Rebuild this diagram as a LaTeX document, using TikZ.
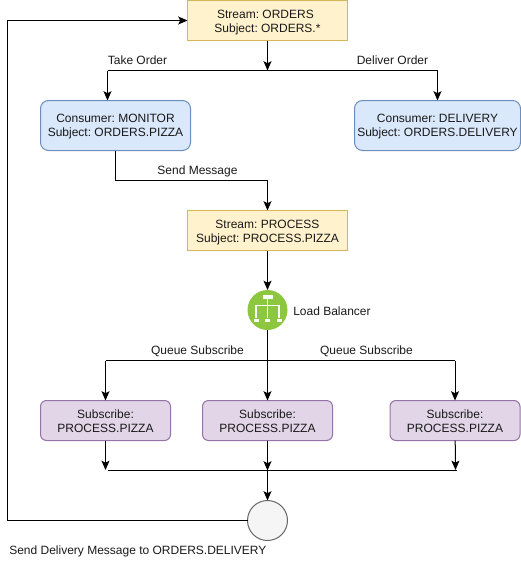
\documentclass[tikz,border=0pt]{standalone}
\usepackage{fontspec}
\setmainfont{Liberation Sans}
\usepackage{xcolor}
\usetikzlibrary{arrows.meta}
\definecolor{streamfill}{HTML}{FFF2CC}
\definecolor{streamline}{HTML}{D6B656}
\definecolor{consumerfill}{HTML}{DAE8FC}
\definecolor{consumerline}{HTML}{6C8EBF}
\definecolor{subfill}{HTML}{E1D5E7}
\definecolor{subline}{HTML}{9673A6}
\definecolor{balancer}{HTML}{8DC63F}
\newcommand{\gapA}{\rule{0pt}{9.6pt}}
\newcommand{\gapB}{\rule{0pt}{8pt}}
\tikzset{
	box/.style={draw, line width=0.75pt, align=center, inner sep=0pt, outer sep=0pt, font=\fontsize{9}{10.5}\selectfont\frenchspacing, text=black!90},
	streambox/.style={box, fill=streamfill, draw=streamline, minimum width=120pt, minimum height=30pt},
	consumerbox/.style={box, fill=consumerfill, draw=consumerline, rounded corners=6pt, minimum height=37.5pt},
	subbox/.style={box, fill=subfill, draw=subline, rounded corners=4.5pt, minimum width=97.5pt, minimum height=30pt},
	label/.style={inner sep=0pt, font=\fontsize{9}{10.5}\selectfont\frenchspacing, text=black!90},
	link/.style={line width=0.75pt, black},
	arrow/.style={link, -{Stealth[length=7pt, width=6pt, inset=1.5pt]}},
	icon/.style={fill=white, draw=none},
	iconline/.style={white, line width=0.9pt}
}
\begin{document}
\begin{tikzpicture}[x=0.75pt, y=-0.75pt]
	\useasboundingbox (0,0) rectangle (521,561);
	% boxes
	\node[streambox] (orders) at (267.5,20.5) {\gapA Stream: ORDERS\rule{3pt}{0pt}\\Subject: ORDERS.*};
	\node[consumerbox, minimum width=112.5pt] (monitor) at (115.5,125.5) {\gapB Consumer: MONITOR\\Subject: ORDERS.PIZZA};
	\node[consumerbox, minimum width=124.5pt] (delivery) at (437.5,125.5) {\gapB Consumer: DELIVERY\\Subject: ORDERS.DELIVERY};
	\node[streambox] (process) at (267.5,230.5) {\gapA Stream: PROCESS\\Subject: PROCESS.PIZZA};
	\node[circle, fill=balancer, minimum size=30pt, inner sep=0pt, outer sep=0pt] (balance) at (267.5,310) {};
	\node[subbox] (subA) at (105.5,420.5) {\gapB Subscribe:\\PROCESS.PIZZA};
	\node[subbox] (subB) at (267.5,420.5) {\gapB Subscribe:\\PROCESS.PIZZA};
	\node[subbox] (subC) at (455,420.5) {\gapB Subscribe:\\PROCESS.PIZZA};
	\node[circle, draw=black!60, fill=black!4, line width=0.75pt, minimum size=30pt, inner sep=0pt, outer sep=0pt] (send) at (267.5,520.5) {};
	% junctions
	\coordinate (split) at (267.5,70.5);
	\coordinate (splitL) at (107.5,70.5);
	\coordinate (splitR) at (437.5,70.5);
	\coordinate (monitorTop) at (107.5,100.5);
	\coordinate (turnA) at (115.5,180.5);
	\coordinate (turnB) at (267.5,180.5);
	\coordinate (queue) at (267.5,360.5);
	\coordinate (queueL) at (105.5,360.5);
	\coordinate (queueR) at (455,360.5);
	\coordinate (busL) at (107.5,470.5);
	\coordinate (busM) at (267.5,470.5);
	\coordinate (busR) at (457,470.5);
	\coordinate (endA) at (105.5,470);
	\coordinate (endC) at (455.5,470);
	\coordinate (backA) at (7.5,520.5);
	\coordinate (backB) at (7.5,20.5);
	% connectors
	\draw[arrow] (orders) -- (split);
	\draw[link] (splitL) -- (splitR);
	\draw[arrow] (splitL) -- (monitorTop);
	\draw[arrow] (splitR) -- (delivery);
	\draw[arrow] (monitor.south -| turnA) -- (turnA) -- (turnB) -- (process);
	\draw[arrow] (process) -- (balance);
	\draw[link] (balance) -- (queue);
	\draw[link] (queueL) -- (queueR);
	\draw[arrow] (queueL) -- (subA);
	\draw[arrow] (queue) -- (subB);
	\draw[arrow] (queueR) -- (subC);
	\draw[arrow] (subA) -- (endA);
	\draw[arrow] (subB) -- (busM);
	\draw[arrow] (subC) -- (endC);
	\draw[link] (busL) -- (busR);
	\draw[arrow] (busM) -- (send);
	\draw[arrow] (send) -- (backA) -- (backB) -- (orders);
	% balancer icon
	\fill[icon] (262.5,294.5) rectangle (272.5,299);
	\draw[iconline] (267.5,299) -- (267.5,318);
	\draw[iconline] (256,318) -- (256,305.5) -- (279,305.5) -- (279,318);
	\fill[icon] (253.5,318.5) rectangle (258.5,322);
	\fill[icon] (265,318.5) rectangle (270,322);
	\fill[icon] (276.5,318.5) rectangle (281.5,322);
	% texts
	\node[label] (takeTxt) at (137.5,60.5) {Take Order};
	\node[label] (deliverTxt) at (392.5,60.5) {Deliver Order};
	\node[label] (sendTxt) at (197.5,171) {Send Message};
	\node[label, anchor=west] (loadTxt) at (293,311) {Load Balancer};
	\node[label] (queueTxtA) at (197.5,351) {Queue Subscribe};
	\node[label] (queueTxtB) at (366.5,351) {Queue Subscribe};
	\node[label, anchor=west] (msgTxt) at (9,551) {Send Delivery Message to ORDERS.DELIVERY};
\end{tikzpicture}
\end{document}
